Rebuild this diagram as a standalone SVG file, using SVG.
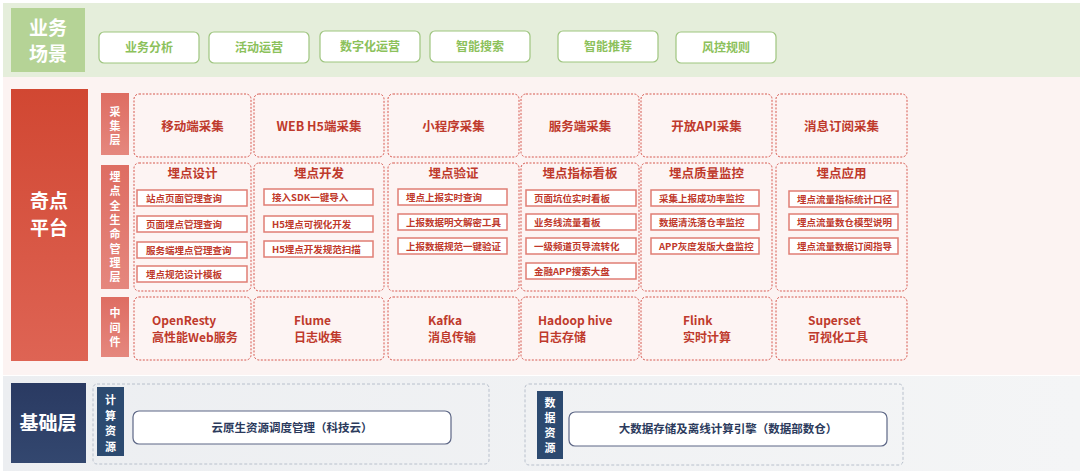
<svg xmlns="http://www.w3.org/2000/svg" width="1080" height="474" viewBox="0 0 1080 474">
<defs>
<linearGradient id="gRed" x1="0" y1="0" x2="0" y2="1"><stop offset="0" stop-color="#d14732"/><stop offset="1" stop-color="#de6454"/></linearGradient>
<linearGradient id="gLab" x1="0" y1="0" x2="0" y2="1"><stop offset="0" stop-color="#de6d62"/><stop offset="1" stop-color="#e5877e"/></linearGradient>
<linearGradient id="gNavy" x1="0" y1="0" x2="0" y2="1"><stop offset="0" stop-color="#2a3a62"/><stop offset="1" stop-color="#33476f"/></linearGradient>
<linearGradient id="gGray" x1="0" y1="0" x2="1" y2="0"><stop offset="0" stop-color="#eceef1"/><stop offset="1" stop-color="#f4f5f6"/></linearGradient>
<style>
text{font-family:"Noto Sans CJK SC","Noto Sans",sans-serif;font-weight:bold}
.band-g{fill:#e5eedb}
.band-r{fill:#fcf3f2}
.btn{fill:#fff;stroke:#9ec57f;stroke-width:1.2}
.btnt{fill:#8cc15b;font-size:12px;text-anchor:middle}
.big{fill:#fff;font-size:19px;text-anchor:middle}
.lab{fill:url(#gLab)}
.labt{fill:#fff;font-size:11px;text-anchor:middle}
.dash{fill:#fdf4f3;stroke:#d6584f;stroke-width:1;stroke-dasharray:2 1.5}
.t1{fill:#bf3a2c;font-size:12.5px;text-anchor:middle}
.item{fill:#fff;stroke:#e07d74;stroke-width:1.5}
.itt{fill:#c0392b;font-size:9.5px}
.mw{fill:#bf3a2c;font-size:12px}
.navlab{fill:#2c4a70}
.gdash{fill:none;stroke:#b8c0cc;stroke-width:1;stroke-dasharray:3 2}
.gbox{fill:#fff;stroke:#5d6786;stroke-width:1.2}
.gt{fill:#2b3a5c;font-size:11.5px;text-anchor:middle}
</style>
</defs>
<rect x="0" y="0" width="1080" height="474" fill="#ffffff"/>
<rect x="3" y="3" width="1077" height="74" class="band-g"/>
<rect x="3" y="77" width="1077" height="298" class="band-r"/>
<rect x="3" y="376" width="1077" height="95" fill="url(#gGray)"/>

<g id="connectors"/>

<g id="scene-title">
<rect x="11" y="8" width="74" height="64" fill="#b5d396"/>
<text class="big" x="48" y="35" font-size="18"><tspan x="48" y="35">业务</tspan><tspan x="48" y="61">场景</tspan></text>
</g>
<g id="scene-1"><rect class="btn" x="99" y="32" width="100" height="31" rx="5"/><text class="btnt" x="149" y="52">业务分析</text></g>
<g id="scene-2"><rect class="btn" x="209" y="32" width="100" height="31" rx="5"/><text class="btnt" x="259" y="52">活动运营</text></g>
<g id="scene-3"><rect class="btn" x="320" y="31" width="100" height="31" rx="5"/><text class="btnt" x="370" y="51">数字化运营</text></g>
<g id="scene-4"><rect class="btn" x="430" y="31" width="100" height="31" rx="5"/><text class="btnt" x="480" y="51">智能搜索</text></g>
<g id="scene-5"><rect class="btn" x="558" y="31" width="100" height="31" rx="5"/><text class="btnt" x="608" y="51">智能推荐</text></g>
<g id="scene-6"><rect class="btn" x="676" y="32" width="100" height="31" rx="5"/><text class="btnt" x="726" y="52">风控规则</text></g>

<g id="platform-title">
<rect x="11" y="89" width="77" height="272" fill="url(#gRed)"/>
<text class="big" x="49" y="208"><tspan x="49" y="208">奇点</tspan><tspan x="49" y="235">平台</tspan></text>
</g>

<g id="layer-collect">
<rect class="lab" x="101" y="93" width="28" height="62"/>
<text class="labt" x="115" y="116">采</text><text class="labt" x="115" y="130">集</text><text class="labt" x="115" y="144">层</text>
</g>
<g id="layer-lifecycle">
<rect class="lab" x="101" y="165" width="28" height="124"/>
<text class="labt" x="115" y="181">埋</text><text class="labt" x="115" y="195.3">点</text><text class="labt" x="115" y="209.6">全</text><text class="labt" x="115" y="223.9">生</text><text class="labt" x="115" y="238.2">命</text><text class="labt" x="115" y="252.5">管</text><text class="labt" x="115" y="266.8">理</text><text class="labt" x="115" y="281.1">层</text>
</g>
<g id="layer-middleware">
<rect class="lab" x="101" y="297" width="28" height="60"/>
<text class="labt" x="115" y="317">中</text><text class="labt" x="115" y="331.5">间</text><text class="labt" x="115" y="346">件</text>
</g>

<g id="collect-1"><rect class="dash" x="134" y="94" width="117" height="63" rx="5"/><text class="t1" x="192.5" y="131">移动端采集</text></g>
<g id="collect-2"><rect class="dash" x="254" y="94" width="130" height="63" rx="5"/><text class="t1" x="319" y="131">WEB H5端采集</text></g>
<g id="collect-3"><rect class="dash" x="388" y="94" width="131" height="63" rx="5"/><text class="t1" x="453.5" y="131">小程序采集</text></g>
<g id="collect-4"><rect class="dash" x="521" y="94" width="118" height="63" rx="5"/><text class="t1" x="580" y="131">服务端采集</text></g>
<g id="collect-5"><rect class="dash" x="641" y="94" width="131" height="63" rx="5"/><text class="t1" x="706.5" y="131">开放API采集</text></g>
<g id="collect-6"><rect class="dash" x="776" y="94" width="131" height="63" rx="5"/><text class="t1" x="841.5" y="131">消息订阅采集</text></g>

<g id="design">
<rect class="dash" x="134" y="163" width="117" height="128" rx="5"/>
<text class="t1" x="192.5" y="178">埋点设计</text>
<rect class="item" x="137" y="190" width="110" height="16"/><text class="itt" x="146" y="201.5">站点页面管理查询</text>
<rect class="item" x="137" y="216" width="110" height="16"/><text class="itt" x="146" y="227.5">页面埋点管理查询</text>
<rect class="item" x="137" y="242" width="110" height="16"/><text class="itt" x="146" y="253.5">服务端埋点管理查询</text>
<rect class="item" x="137" y="266" width="110" height="16"/><text class="itt" x="146" y="277.5">埋点规范设计模板</text>
</g>
<g id="develop">
<rect class="dash" x="254" y="163" width="130" height="128" rx="5"/>
<text class="t1" x="319" y="178">埋点开发</text>
<rect class="item" x="264" y="189" width="109" height="16"/><text class="itt" x="272" y="200.5">接入SDK一键导入</text>
<rect class="item" x="264" y="216" width="109" height="16"/><text class="itt" x="272" y="227.5">H5埋点可视化开发</text>
<rect class="item" x="264" y="241" width="109" height="16"/><text class="itt" x="272" y="252.5">H5埋点开发规范扫描</text>
</g>
<g id="verify">
<rect class="dash" x="388" y="163" width="131" height="128" rx="5"/>
<text class="t1" x="453.5" y="178">埋点验证</text>
<rect class="item" x="398" y="189" width="109" height="16"/><text class="itt" x="406" y="200.5">埋点上报实时查询</text>
<rect class="item" x="398" y="214" width="109" height="16"/><text class="itt" x="406" y="225.5">上报数据明文解密工具</text>
<rect class="item" x="398" y="238" width="109" height="16"/><text class="itt" x="406" y="249.5">上报数据规范一键验证</text>
</g>
<g id="dashboard">
<rect class="dash" x="521" y="163" width="118" height="128" rx="5"/>
<text class="t1" x="580" y="178">埋点指标看板</text>
<rect class="item" x="526" y="190" width="110" height="16"/><text class="itt" x="534" y="201.5">页面坑位实时看板</text>
<rect class="item" x="526" y="214" width="110" height="16"/><text class="itt" x="534" y="225.5">业务线流量看板</text>
<rect class="item" x="526" y="238" width="110" height="16"/><text class="itt" x="534" y="249.5">一级频道页导流转化</text>
<rect class="item" x="526" y="263" width="110" height="16"/><text class="itt" x="534" y="274.5">金融APP搜索大盘</text>
</g>
<g id="quality">
<rect class="dash" x="641" y="163" width="131" height="128" rx="5"/>
<text class="t1" x="706.5" y="178">埋点质量监控</text>
<rect class="item" x="651" y="190" width="108" height="16"/><text class="itt" x="659" y="201.5">采集上报成功率监控</text>
<rect class="item" x="651" y="214" width="108" height="16"/><text class="itt" x="659" y="225.5">数据清洗落仓率监控</text>
<rect class="item" x="651" y="238" width="108" height="16"/><text class="itt" x="659" y="249.5">APP灰度发版大盘监控</text>
</g>
<g id="application">
<rect class="dash" x="776" y="163" width="131" height="128" rx="5"/>
<text class="t1" x="841.5" y="178">埋点应用</text>
<rect class="item" x="789" y="191" width="109" height="16"/><text class="itt" x="797" y="202.5">埋点流量指标统计口径</text>
<rect class="item" x="789" y="214" width="109" height="16"/><text class="itt" x="797" y="225.5">埋点流量数仓模型说明</text>
<rect class="item" x="789" y="238" width="109" height="16"/><text class="itt" x="797" y="249.5">埋点流量数据订阅指导</text>
</g>

<g id="mw-1"><rect class="dash" x="134" y="297" width="117" height="63" rx="5"/><text class="mw" x="152" y="325">OpenResty</text><text class="mw" x="152" y="342">高性能Web服务</text></g>
<g id="mw-2"><rect class="dash" x="254" y="297" width="130" height="63" rx="5"/><text class="mw" x="294" y="325">Flume</text><text class="mw" x="294" y="342">日志收集</text></g>
<g id="mw-3"><rect class="dash" x="388" y="297" width="131" height="63" rx="5"/><text class="mw" x="428" y="325">Kafka</text><text class="mw" x="428" y="342">消息传输</text></g>
<g id="mw-4"><rect class="dash" x="521" y="297" width="118" height="63" rx="5"/><text class="mw" x="538" y="325">Hadoop hive</text><text class="mw" x="538" y="342">日志存储</text></g>
<g id="mw-5"><rect class="dash" x="641" y="297" width="131" height="63" rx="5"/><text class="mw" x="683" y="325">Flink</text><text class="mw" x="683" y="342">实时计算</text></g>
<g id="mw-6"><rect class="dash" x="776" y="297" width="131" height="63" rx="5"/><text class="mw" x="808" y="325">Superset</text><text class="mw" x="808" y="342">可视化工具</text></g>

<g id="base-title">
<rect x="11" y="383" width="75" height="80" fill="url(#gNavy)"/>
<text class="big" x="48" y="430" font-size="18">基础层</text>
</g>
<g id="compute">
<rect class="gdash" x="93" y="384" width="396" height="80" rx="4"/>
<rect class="navlab" x="97" y="387" width="27" height="69"/>
<text class="labt" x="110.5" y="404">计</text><text class="labt" x="110.5" y="419.5">算</text><text class="labt" x="110.5" y="435">资</text><text class="labt" x="110.5" y="450.5">源</text>
<rect class="gbox" x="133" y="411" width="318" height="33" rx="6"/>
<text class="gt" x="292" y="432">云原生资源调度管理（科技云）</text>
</g>
<g id="data">
<rect class="gdash" x="525" y="384" width="378" height="81" rx="4"/>
<rect class="navlab" x="537" y="391" width="26" height="68"/>
<text class="labt" x="550" y="407">数</text><text class="labt" x="550" y="422">据</text><text class="labt" x="550" y="437">资</text><text class="labt" x="550" y="452">源</text>
<rect class="gbox" x="569" y="412" width="318" height="34" rx="6"/>
<text class="gt" x="728" y="433">大数据存储及离线计算引擎（数据部数仓）</text>
</g>
</svg>
